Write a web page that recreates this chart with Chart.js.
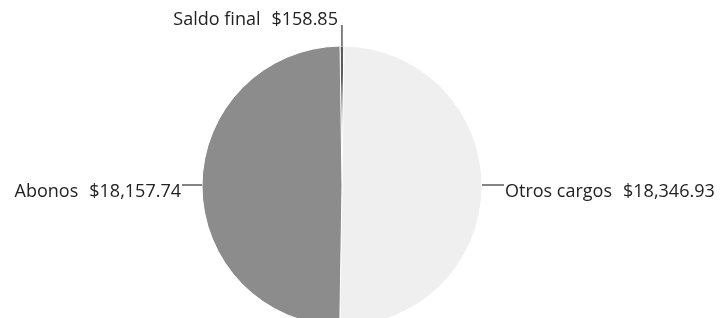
<!DOCTYPE html>
<html>
<head>
<meta charset="utf-8">
<script src="https://cdn.jsdelivr.net/npm/chart.js@4.4.1/dist/chart.umd.min.js"></script>
<style>
  html, body { margin: 0; padding: 0; background: #fff; }
  #wrap { width: 721px; height: 318px; }
</style>
</head>
<body>
<div id="wrap"><canvas id="pie"></canvas></div>
<script>
// slices, clockwise from 12 o'clock
const categories = ['Saldo final', 'Otros cargos', 'Abonos'];
const values = [158.85, 18346.93, 18157.74];
const sliceColors = ['#5a5a5a', '#efefef', '#8c8c8c'];

const money = v => '$' + v.toLocaleString('en-US', { minimumFractionDigits: 2, maximumFractionDigits: 2 });

const sliceLabels = {
    id: 'sliceLabels',
    afterDatasetsDraw(chart) {
        const ctx = chart.ctx;
        const arcs = chart.getDatasetMeta(0).data;
        const gap = 11;
        ctx.save();
        ctx.font = '18px "Open Sans"';
        ctx.fillStyle = '#222';
        ctx.strokeStyle = '#333';
        ctx.lineWidth = 1.2;
        ctx.textAlign = 'left';
        ctx.textBaseline = 'alphabetic';
        arcs.forEach((arc, i) => {
            const { x, y, startAngle, endAngle, outerRadius } = arc.getProps(['x', 'y', 'startAngle', 'endAngle', 'outerRadius'], true);
            const mid = (startAngle + endAngle) / 2;
            const name = categories[i];
            const amount = money(values[i]);
            const nameW = ctx.measureText(name).width;
            const full = nameW + gap + ctx.measureText(amount).width;
            let left, base;
            if (Math.abs(Math.cos(mid)) < 0.3) {
                // thin slice at the top: vertical leader up to the label
                const ex = x + Math.cos(mid) * outerRadius;
                const ey = y + Math.sin(mid) * outerRadius;
                base = 25;
                ctx.beginPath();
                ctx.moveTo(ex, ey);
                ctx.lineTo(ex, base);
                ctx.stroke();
                left = ex - 4 - full;
            } else {
                const right = Math.cos(mid) > 0;
                const ex = x + (right ? outerRadius : -outerRadius);
                const lx = ex + (right ? 22 : -20);
                ctx.beginPath();
                ctx.moveTo(ex, y - 1);
                ctx.lineTo(lx, y - 1);
                ctx.stroke();
                left = right ? lx + 1 : lx - 1 - full;
                base = y + 11;
            }
            ctx.fillText(name, left, base);
            ctx.fillText(amount, left + nameW + gap, base);
        });
        ctx.restore();
    }
};

new Chart(document.getElementById('pie'), {
    type: 'pie',
    data: {
        labels: categories,
        datasets: [{
            data: values,
            backgroundColor: sliceColors,
            borderColor: '#ffffff',
            borderWidth: 1,
            radius: 140
        }]
    },
    options: {
        responsive: true,
        maintainAspectRatio: false,
        animation: false,
        rotation: -0.8,
        layout: { padding: { top: 54, bottom: 0, left: 0, right: 37 } },
        plugins: {
            legend: { display: false },
            tooltip: { enabled: false }
        }
    },
    plugins: [sliceLabels]
});
</script>
</body>
</html>
